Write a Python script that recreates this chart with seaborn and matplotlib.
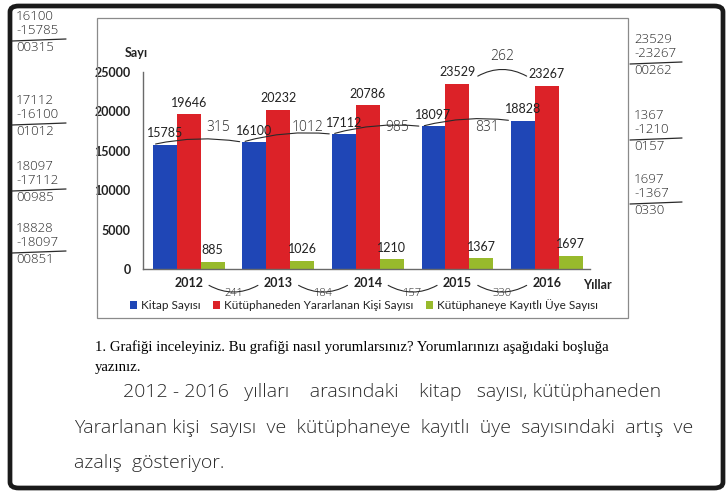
import matplotlib
matplotlib.use("Agg")
import matplotlib.pyplot as plt
from matplotlib.patches import FancyBboxPatch, Rectangle
from matplotlib.lines import Line2D
import seaborn as sns
import pandas as pd

# ---- data -------------------------------------------------------------
years = ["2012", "2013", "2014", "2015", "2016"]
series_names = ["Kitap Sayısı",
                "Kütüphaneden Yararlanan Kişi Sayısı",
                "Kütüphaneye Kayıtlı Üye Sayısı"]
kitap = [15785, 16100, 17112, 18097, 18828]
yararlanan = [19646, 20232, 20786, 23529, 23267]
uye = [885, 1026, 1210, 1367, 1697]
yticks = [0, 5000, 10000, 15000, 20000, 25000]
colors = ["#1f46b6", "#dc2228", "#98ba2c"]

question = ("1. Grafiği inceleyiniz. Bu grafiği nasıl yorumlarsınız? "
            "Yorumlarınızı aşağıdaki boşluğa")
question2 = "yazınız."
answer_lines = [
    "2012 - 2016   yılları    arasındaki    kitap   sayısı, kütüphaneden",
    "Yararlanan kişi  sayısı  ve  kütüphaneye  kayıtlı  üye  sayısındaki  artış  ve",
    "azalış  gösteriyor.",
]
# pencil notes: differences between consecutive years
kitap_notes = ["315", "1012", "985", "831"]
uye_notes = ["241", "184", "157", "330"]
yararlanan_note = "262"
left_calcs = [("16100", "-15785", "00315"), ("17112", "-16100", "01012"),
              ("18097", "-17112", "00985"), ("18828", "-18097", "00851")]
right_calcs = [("23529", "-23267", "00262"), ("1367", "-1210", "0157"),
               ("1697", "-1367", "0330")]

df = pd.DataFrame({
    "Yıl": years * 3,
    "Seri": [s for s in series_names for _ in years],
    "Değer": kitap + yararlanan + uye,
})

# ---- figure -----------------------------------------------------------
sns.set_theme(style="white")
plt.rcParams["font.family"] = ["Lato", "DejaVu Sans"]
W, H = 728, 491
fig = plt.figure(figsize=(W / 100, H / 100), dpi=100)
fig.patch.set_facecolor("white")


def fx(px):
    return px / W


def fy(py):
    return 1 - py / H


# page frame and chart panel
fig.patches.append(FancyBboxPatch((fx(10), fy(488)), fx(713), fy(6) - fy(488),
                                  boxstyle="round,pad=0,rounding_size=0.012",
                                  transform=fig.transFigure, fill=False,
                                  edgecolor="#1a1a1a", linewidth=3.4))
fig.patches.append(Rectangle((fx(97), fy(318)), fx(531), fy(18) - fy(318),
                             transform=fig.transFigure, fill=False,
                             edgecolor="#8a8a8a", linewidth=0.9))

ax = fig.add_axes([fx(143), fy(269), fx(590) - fx(143), fy(72) - fy(269)])
sns.barplot(data=df, x="Yıl", y="Değer", hue="Seri", hue_order=series_names,
            palette=colors, width=0.8, saturation=1, ax=ax, legend=True,
            edgecolor="none")
ax.set_xlim(-0.51, 4.48)
ax.set_ylim(0, 25000)
ax.set_yticks(yticks)
ax.set_yticklabels([str(v) for v in yticks], fontsize=9, fontweight="bold",
                   color="#222222")
ax.tick_params(axis="y", length=0, pad=9)
ax.tick_params(axis="x", length=0, pad=6)
for lab in ax.get_xticklabels():
    lab.set_fontsize(9)
    lab.set_fontweight("bold")
    lab.set_color("#222222")
ax.set_xlabel("")
ax.set_ylabel("")
for side in ("top", "right"):
    ax.spines[side].set_visible(False)
for side in ("left", "bottom"):
    ax.spines[side].set_color("#6a6a6a")
    ax.spines[side].set_linewidth(1.0)

for cont in ax.containers:
    ax.bar_label(cont, labels=[f"{int(v)}" for v in cont.datavalues],
                 padding=4, fontsize=9, color="#222222")

fig.text(fx(136), fy(53), "Sayı", fontsize=9, fontweight="bold",
         ha="center", va="center", color="#222222")
fig.text(fx(597), fy(285), "Yıllar", fontsize=9, fontweight="bold",
         ha="center", va="center", color="#222222")

handles, labels = ax.get_legend_handles_labels()
ax.get_legend().remove()
fig.legend(handles, labels, loc="center", bbox_to_anchor=(fx(364), fy(305)),
           ncol=3, frameon=False, fontsize=8.5, handlelength=0.6,
           handleheight=0.6, handletextpad=0.3, columnspacing=1.1,
           labelcolor="#222222")

# pencil notes on the chart
ink = "#2a2a2a"
hand = dict(color=ink, family=["Open Sans", "DejaVu Sans"], fontweight="light")
for i, note in enumerate(kitap_notes):
    ax.annotate("", xy=(i + 1 - 0.4, kitap[i + 1]), xytext=(i - 0.4, kitap[i]),
                arrowprops=dict(arrowstyle="-", color=ink, lw=0.8,
                                connectionstyle="arc3,rad=-0.1"))
    ax.text(i + 0.33, 18000, note, ha="center", va="center", fontsize=10, **hand)
for i, note in enumerate(uye_notes):
    ax.annotate("", xy=(i + 0.8, -1900), xytext=(i + 0.2, -1900),
                arrowprops=dict(arrowstyle="-", color=ink, lw=0.8,
                                connectionstyle="arc3,rad=0.3"),
                annotation_clip=False)
    ax.text(i + 0.5, -3100, note, ha="center", va="center", fontsize=8,
            clip_on=False, **hand)
ax.annotate("", xy=(3.8, 24300), xytext=(3.2, 24300),
            arrowprops=dict(arrowstyle="-", color=ink, lw=0.8,
                            connectionstyle="arc3,rad=-0.3"),
            annotation_clip=False)
ax.text(3.5, 27000, yararlanan_note, ha="center", va="center",
        fontsize=10, clip_on=False, **hand)


# margin subtractions: two operands, a rule, then the result
def calc_block(rows, x0, top, width):
    for k, (row, off) in enumerate(zip(rows, (0, 14, 31))):
        fig.text(fx(x0), fy(top + off), row, ha="left", va="top",
                 fontsize=9.5, **hand)
    fig.lines.append(Line2D([fx(x0 - 4), fx(x0 + width)],
                            [fy(top + 31), fy(top + 29)],
                            transform=fig.transFigure, color=ink, lw=0.9))


for rows, top in zip(left_calcs, [10, 94, 160, 222]):
    calc_block(rows, 16, top, 50)
for rows, top in zip(right_calcs, [33, 109, 173]):
    calc_block(rows, 634, top, 48)

# question and written answer
fig.text(fx(95), fy(347), question, fontsize=10.6, family="Liberation Serif",
         ha="left", va="center", color="#000000")
fig.text(fx(95), fy(367), question2, fontsize=10.6, family="Liberation Serif",
         ha="left", va="center", color="#000000")
for txt, (x0, y0) in zip(answer_lines, [(123, 392), (74, 428), (74, 463)]):
    fig.text(fx(x0), fy(y0), txt, fontsize=14, ha="left", va="center", **hand)

fig.savefig("out.png", dpi=100, facecolor="white")
